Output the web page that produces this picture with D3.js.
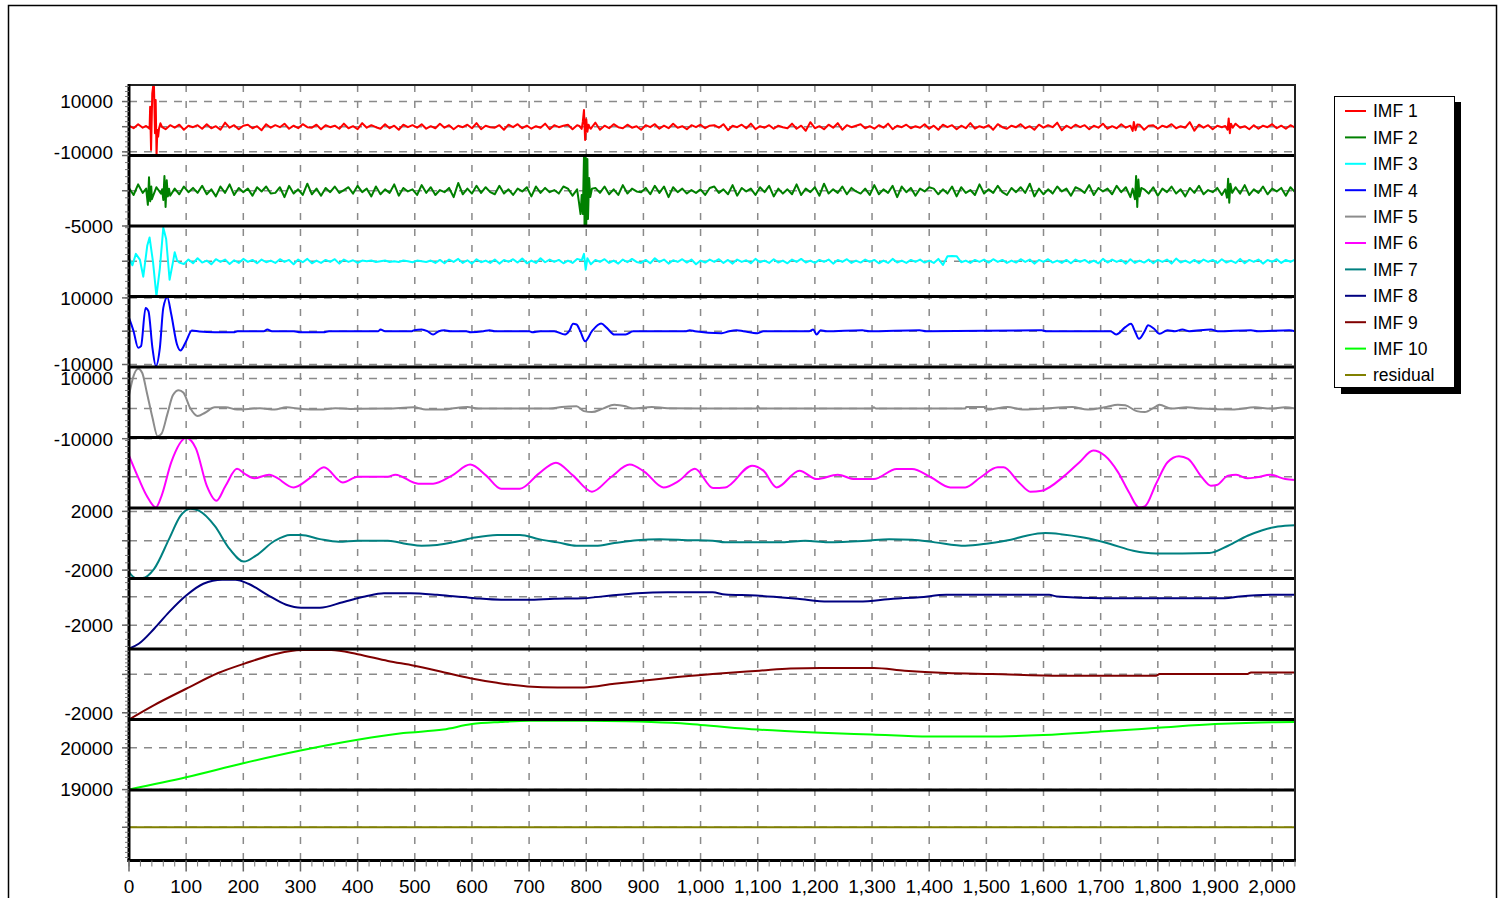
<!DOCTYPE html>
<html><head><meta charset="utf-8">
<script src="https://cdn.jsdelivr.net/npm/d3@7/dist/d3.min.js"></script>
<style>
body{margin:0;background:#fff;}
svg{display:block;font-family:"Liberation Sans",Arial,sans-serif;}
</style>
</head><body>
<svg id="chart" width="1499" height="898"></svg>
<script>
// ---------------- DATA ----------------
const seriesNames = ["IMF 1","IMF 2","IMF 3","IMF 4","IMF 5","IMF 6","IMF 7","IMF 8","IMF 9","IMF 10","residual"];
const seriesColors = ["#ff0000","#008000","#00ffff","#0000ff","#8c8c8c","#ff00ff","#008080","#000080","#800000","#00ff00","#808000"];
const xTickValues = [0,100,200,300,400,500,600,700,800,900,1000,1100,1200,1300,1400,1500,1600,1700,1800,1900,2000];
const xDomain = [0, 2040];

const yDomains = [[-11450,16580],[-5000,5000],[-10500,10500],[-10750,10420],[-9600,13800],[-5200,6500],[-2570,2230],[-3680,1290],[-2350,1320],[18990,20680],[-33,37]];
const yTicks   = [[-10000,0,10000],[-5000,0,5000],[0],[-10000,0,10000],[-10000,0,10000],[0],[-2000,0,2000],[-2000,0],[-2000,0],[19000,20000],[0]];
const yLabels  = [[-10000,10000],[-5000],[],[-10000,10000],[-10000,10000],[],[-2000,2000],[-2000],[-2000],[19000,20000],[]];

const noiseStep = 8;
// IMF 1 background (every 8 samples)
const imf1Noise = [
400,-600,1000,-400,600,-800,200,1200,-1000,600,-400,800,-1200,400,-200,600,
-800,1000,-600,200,-1200,1600,-400,600,-1000,400,800,-600,200,-1400,1000,-400,
600,-200,1200,-800,400,-600,1000,-200,-400,800,-1000,600,-200,400,-800,1200,
-600,200,-1000,1400,-400,600,-200,-800,1000,-600,400,-1200,800,-200,600,-400,
1000,-800,200,-600,1200,-400,600,-1000,400,-200,800,-600,1400,-1000,400,-200,
-400,600,-1200,800,-200,1000,-600,400,-800,200,-400,1200,-1000,600,-200,400,
800,-1000,600,-400,200,-800,1600,-1200,400,-600,1000,-200,-600,800,-400,200,
-1200,600,-200,1000,-800,400,-600,1200,-400,200,-1000,600,-200,800,-600,400,
600,-400,1000,-1400,400,-200,800,-600,1200,-1000,200,-400,600,-800,400,-200,
-600,1200,-800,400,-1600,1800,-600,200,-1000,800,-400,1400,-1200,600,-200,400,
1000,-600,200,-800,600,-400,1200,-1000,400,-200,800,-600,200,-400,1000,-800,
400,-1200,800,-200,600,-1000,400,-600,1400,-800,200,-400,600,-1200,1000,-200,
-800,400,-200,1000,-600,200,-1200,800,-400,600,-200,1600,-1400,400,-600,800,
-200,600,-1000,400,-400,1200,-800,200,-600,1000,-400,600,-200,800,-1200,400,
600,-800,400,-200,1000,-600,200,-400,1800,-1600,800,-400,600,-1000,400,-200,
800,-600,1200,-400,200,-1000,600,-800,400,-200,1000,-600,400,-800,600,-400];
const imf1Bursts = [
 [[30,300],[36,-800],[37,7950],[38.6,-9260],[40.7,13300],[42.5,16580],[43.7,15900],[45.5,-2600],[46.7,10600],[48.2,-11450],[49.6,-1300],[51,-4000],[52.6,-600],[55,1350],[58,-200]],
 [[788,300],[792,-900],[794,2000],[796,6600],[798,-5300],[800,3000],[802,-2000],[804,800],[806,-300]],
 [[1752,400],[1756,-1700],[1758,1900],[1761,-1400],[1764,900]],
 [[1918,300],[1922,-1200],[1924,3300],[1926,-2600],[1928,1200],[1931,-400]]];

const imf2Noise = [
400,-600,900,-300,700,-1200,500,-400,800,-700,300,-500,600,-200,400,-300,
700,-500,200,-800,600,-300,900,-600,400,-200,300,-700,500,-100,600,-400,
-300,500,-900,700,-400,200,-600,1000,-500,300,-700,400,-200,600,-300,100,
500,-400,700,-200,300,-800,600,-500,200,-300,900,-700,400,-100,200,-600,
800,-300,500,-600,100,-200,400,-900,1100,-500,300,-400,700,-300,500,-200,
-500,700,-400,200,-600,300,-100,500,-800,600,-300,400,-200,100,-400,600,
300,-700,500,-200,900,-1000,400,-300,600,-500,200,-600,800,-400,300,-100,
-200,400,-500,700,-300,600,-900,500,-200,300,-400,100,-300,200,-600,400,
600,-300,200,-500,800,-700,400,-100,300,-600,500,-200,700,-800,300,-400,
200,-500,900,-600,300,-200,500,-700,1000,-400,200,-300,600,-500,400,-100,
-400,300,-600,800,-500,200,-300,700,-900,600,-200,400,-700,300,-100,500,
300,-500,200,-400,600,-800,500,-300,100,-600,900,-400,200,-300,700,-200,
-600,400,-200,500,-300,1000,-800,300,-500,200,-400,600,-100,300,-700,500,
200,-300,800,-600,400,-100,300,-500,700,-200,500,-900,600,-300,200,-400,
500,-700,300,-200,600,-400,200,-800,400,-300,700,-500,100,-200,400,-600,
300,-200,500,-400,800,-600,200,-300,600,-500,300,-100,400,-700,500,-200];
const imf2Bursts = [
 [[30,300],[33,-2000],[35,1900],[37,-1500],[39,600]],
 [[58,200],[60,-1300],[62,2100],[64,-2300],[66,1500],[68,-800],[70,300]],
 [[784,200],[787,-1500],[790,-3300],[792,-600],[794,-3300],[796,4800],[797,-5000],[799,4900],[800,-4800],[802,4500],[803,-4000],[805,1800],[807,-900],[810,300]],
 [[1756,300],[1760,-1200],[1762,2100],[1764,-2300],[1766,1600],[1768,-800],[1771,400]],
 [[1918,200],[1921,-1000],[1923,1700],[1925,-1700],[1927,1000],[1930,-300]]];

const imf3Noise = [
500,-300,600,-400,300,-700,400,-200,600,-400,300,-200,-800,500,-600,900,
-400,200,-900,600,-200,500,-800,300,-500,700,-200,400,-600,500,-300,200,
-500,600,-200,400,-900,500,-300,700,-600,200,-500,400,-200,600,-700,500,
-200,300,-500,200,0,200,-200,0,200,-200,0,-200,200,0,-300,200,
0,-200,200,-500,400,-600,500,-200,700,-500,300,-700,600,-300,200,-500,
500,-700,400,-200,600,-400,800,-600,200,-500,900,-300,500,-200,400,-600,
200,-500,700,-300,500,-900,400,-200,600,-500,200,-700,500,-300,700,-200,
-500,400,-600,900,-200,500,-700,300,-200,600,-400,500,-900,200,-400,500,
-200,600,-500,400,-700,500,-200,300,-600,700,-300,200,-500,600,-400,200,
-600,500,-200,700,-400,200,-500,400,-200,500,-700,400,-200,600,-500,200,
-400,500,-200,400,-600,200,-500,700,-400,200,-500,400,-200,500,-400,200,
-500,700,-1100,1500,1600,1500,-300,200,-500,400,-200,500,-400,600,-200,400,
-500,200,-400,600,-200,500,-700,400,-200,600,-400,200,-500,400,-600,500,
-200,400,-500,200,-600,700,-400,500,-200,400,-700,600,-500,200,-400,500,
-600,400,-200,500,-700,800,-400,200,-500,400,-600,500,-200,400,-500,600,
-400,200,-500,700,-600,400,-200,500,-700,400,-200,600,-500,400,-200,500];
const imf3Bursts = [
 [[0,800],[6,-1200],[12,2200],[19,500],[25,-4600],[32,4700],[36,7100],[42,-200],[48,-10400],[54,-2100],[60,10000],[65,6600],[71,-5500],[77,-200],[80,2700],[84,300],[88,-400]],
 [[792,300],[796,2200],[799,-2500],[802,900],[806,-300]]];

const imf4 = [[0,4000],[8,0],[16,-5000],[21,-4500],[29,7000],[34,6000],[41,-5000],[47,-10500],[54,-5000],[60,7000],[67,10200],[74,5000],[84,-4000],[90,-5800],[100,-3000],[110,200],[123,-100],[150,-300],[183,-300],[190,0],[236,0],[242,500],[250,0],[288,0],[300,-300],[340,-300],[350,0],[436,0],[440,500],[448,0],[495,0],[499,300],[512,500],[522,0],[532,-1000],[542,0],[552,300],[562,0],[590,0],[598,-300],[620,0],[631,300],[640,0],[700,0],[705,-300],[720,0],[744,0],[763,-1000],[770,0],[777,2200],[783,2000],[790,-200],[798,-3000],[810,0],[826,2300],[836,1000],[849,-1000],[869,-1000],[882,0],[975,0],[981,300],[990,0],[1037,-600],[1050,0],[1063,300],[1075,0],[1100,-600],[1110,0],[1190,0],[1197,500],[1203,-1000],[1210,300],[1220,0],[1283,300],[1295,0],[1383,300],[1395,0],[1597,300],[1605,0],[1717,0],[1727,-1000],[1743,1200],[1753,2200],[1760,0],[1767,-2300],[1777,0],[1783,1800],[1793,800],[1803,-800],[1817,300],[1830,0],[1843,500],[1855,0],[1893,500],[1905,0],[1963,300],[1975,0],[2030,300],[2040,0]];

const imf5 = [[0,4470],[8,10860],[16,13200],[23,11900],[31,5530],[41,-2980],[50,-9160],[57,-8300],[67,-1920],[77,4470],[87,6070],[95,5330],[107,220],[120,-2450],[133,-1380],[150,430],[169,430],[189,-320],[229,110],[255,-320],[275,430],[301,-100],[334,-320],[361,110],[387,-100],[453,0],[499,430],[519,-320],[552,-320],[565,0],[592,540],[611,0],[737,0],[757,540],[783,750],[796,-850],[810,-1170],[829,0],[849,1280],[869,750],[882,0],[915,540],[942,110],[1024,0],[1098,0],[1100,750],[1104,0],[1300,0],[1303,400],[1307,0],[1463,0],[1465,540],[1497,540],[1503,-320],[1537,540],[1563,-320],[1597,0],[1650,540],[1677,-320],[1710,540],[1730,1280],[1743,1100],[1763,-850],[1777,-1170],[1797,750],[1803,1280],[1823,0],[1850,430],[1877,0],[1930,-320],[1970,430],[1997,0],[2023,430],[2040,0]];

const imf6 = [[0,3500],[17,-330],[31,-3170],[47,-5100],[57,-3170],[74,2400],[100,6400],[117,4700],[136,-1500],[153,-4000],[169,-1500],[189,1300],[202,500],[219,-280],[245,330],[255,0],[288,-1780],[315,-330],[341,1550],[374,-950],[400,0],[453,0],[466,330],[506,-1170],[532,-1170],[565,170],[597,2000],[625,170],[651,-2000],[684,-2000],[717,500],[747,2330],[777,170],[810,-2500],[843,-100],[876,2000],[902,800],[935,-1780],[962,-700],[990,1300],[1022,-1900],[1043,-1780],[1090,1830],[1110,1000],[1133,-1780],[1173,1000],[1203,-400],[1240,300],[1270,-400],[1303,-400],[1343,1280],[1370,1280],[1403,-100],[1437,-1780],[1463,-1780],[1490,-100],[1520,1550],[1530,1550],[1557,-950],[1577,-2500],[1597,-2330],[1637,170],[1663,2400],[1687,4330],[1707,3500],[1730,800],[1750,-2670],[1767,-5100],[1777,-4950],[1797,-1170],[1817,2400],[1837,3400],[1853,2950],[1877,-100],[1893,-1500],[1903,-1400],[1923,170],[1937,300],[1957,-280],[1973,-100],[1997,300],[2023,-400],[2040,-550]];

const imf7 = [[0,-2140],[11,-2530],[24,-2530],[44,-1910],[70,110],[90,1690],[107,2180],[123,2030],[150,1010],[176,-560],[201,-1420],[222,-1010],[255,0],[282,400],[301,400],[334,110],[367,-70],[400,0],[453,0],[486,-220],[512,-340],[539,-290],[572,-70],[605,220],[644,400],[684,400],[717,110],[750,-110],[783,-340],[816,-340],[849,-160],[889,40],[928,110],[981,40],[1021,0],[1043,-110],[1143,-110],[1183,0],[1223,-110],[1290,0],[1330,110],[1370,70],[1410,-110],[1463,-340],[1503,-180],[1543,70],[1570,340],[1603,520],[1630,450],[1670,220],[1717,-220],[1757,-680],[1797,-860],[1843,-860],[1890,-840],[1923,-340],[1957,340],[1983,720],[2010,970],[2040,1060]];

const imf8 = [[0,-3660],[17,-3310],[44,-2250],[70,-1080],[100,90],[130,920],[163,1200],[186,1200],[209,920],[242,140],[275,-560],[301,-770],[334,-770],[374,-380],[413,20],[446,250],[493,250],[539,140],[572,20],[605,-100],[651,-210],[697,-210],[744,-140],[796,-100],[843,90],[889,250],[942,320],[1021,320],[1043,160],[1097,90],[1137,-30],[1170,-140],[1223,-330],[1277,-330],[1337,-140],[1383,-30],[1430,140],[1610,140],[1623,20],[1703,-100],[1917,-100],[1943,20],[1997,140],[2040,140]];

const imf9 = [[0,-2350],[44,-1600],[100,-750],[156,70],[202,560],[255,1050],[301,1270],[354,1270],[400,1050],[453,700],[499,450],[552,100],[597,-200],[644,-440],[697,-630],[750,-680],[796,-680],[849,-490],[902,-320],[955,-150],[1021,20],[1057,100],[1103,190],[1157,310],[1210,330],[1303,330],[1357,190],[1430,70],[1510,20],[1630,-70],[1797,-70],[1803,20],[1957,20],[1963,100],[2040,100]];

const imf10 = [[0,19000],[100,19294],[200,19631],[300,19935],[400,20193],[480,20354],[550,20440],[600,20570],[650,20620],[700,20650],[800,20650],[870,20640],[950,20600],[1000,20550],[1100,20440],[1200,20370],[1300,20320],[1400,20270],[1500,20270],[1600,20310],[1700,20390],[1800,20480],[1900,20570],[1980,20610],[2040,20620]];

const residual = [[0,0],[2040,0]];

// ---------------- DRAWING ----------------
function withBursts(base, step, bursts) {
  const pts = [];
  base.forEach((v, i) => {
    const xv = i * step;
    if (!bursts.some(b => xv >= b[0][0] && xv <= b[b.length - 1][0])) pts.push([xv, v]);
  });
  bursts.forEach(b => b.forEach(p => pts.push(p)));
  pts.sort((a, b) => a[0] - b[0]);
  return pts;
}
const seriesData = [
  withBursts(imf1Noise, noiseStep, imf1Bursts),
  withBursts(imf2Noise, noiseStep, imf2Bursts),
  withBursts(imf3Noise, noiseStep, imf3Bursts),
  imf4, imf5, imf6, imf7, imf8, imf9, imf10, residual];
const smooth = [false,false,false,true,true,true,true,true,true,true,true];

const svg = d3.select("#chart");
const L = 129, R = 1295, T = 85, B = 860.5;
const nP = seriesNames.length;
const pH = (B - T) / nP;
const x = d3.scaleLinear().domain(xDomain).range([L, R]);
const numFmt = d => String(d);   // plain hyphen-minus as in the original

// outer frame
svg.append("rect").attr("x", 8.5).attr("y", 5.5).attr("width", 1488).attr("height", 900)
  .attr("fill", "#fff").attr("stroke", "#000").attr("stroke-width", 1.5);

const grid = svg.append("g");
grid.selectAll("line.v").data(xTickValues.filter(d => d > 0)).join("line")
  .attr("x1", d => x(d)).attr("x2", d => x(d)).attr("y1", T).attr("y2", B)
  .attr("stroke", "#8a8a8a").attr("stroke-width", 1.5).attr("stroke-dasharray", "7,9");

const yScales = [];
for (let i = 0; i < nP; i++) {
  const top = T + i * pH, bot = top + pH;
  const y = d3.scaleLinear().domain(yDomains[i]).range([bot, top]);
  yScales.push(y);
  grid.selectAll(null).data(yTicks[i]).join("line")
    .attr("x1", L).attr("x2", R).attr("y1", d => y(d)).attr("y2", d => y(d))
    .attr("stroke", "#8a8a8a").attr("stroke-width", 1.5).attr("stroke-dasharray", "8,7");
}

// series
const lines = svg.append("g");
seriesData.forEach((data, i) => {
  const y = yScales[i];
  const gen = d3.line().x(d => x(d[0])).y(d => y(d[1]))
    .curve(smooth[i] ? d3.curveMonotoneX : d3.curveLinear);
  lines.append("path").datum(data).attr("d", gen)
    .attr("fill", "none").attr("stroke", seriesColors[i])
    .attr("stroke-width", 2).attr("stroke-linejoin", "round");
});

// panel separators
const frame = svg.append("g");
for (let i = 1; i < nP; i++) {
  const yy = T + i * pH;
  frame.append("line").attr("x1", L).attr("x2", R).attr("y1", yy).attr("y2", yy)
    .attr("stroke", "#000").attr("stroke-width", 3);
}
frame.append("line").attr("x1", L).attr("x2", R + 1).attr("y1", T).attr("y2", T).attr("stroke", "#222").attr("stroke-width", 2);
frame.append("line").attr("x1", R).attr("x2", R).attr("y1", T).attr("y2", B).attr("stroke", "#222").attr("stroke-width", 2);
frame.append("line").attr("x1", L).attr("x2", L).attr("y1", T - 1).attr("y2", B + 1.5).attr("stroke", "#000").attr("stroke-width", 3);
frame.append("line").attr("x1", L - 1.5).attr("x2", R + 1).attr("y1", B).attr("y2", B).attr("stroke", "#000").attr("stroke-width", 3);

// y ticks and labels
const axes = svg.append("g");
yScales.forEach((y, i) => {
  const minor = y.ticks(12);
  axes.selectAll(null).data(minor).join("line")
    .attr("x1", L - 4).attr("x2", L).attr("y1", d => y(d)).attr("y2", d => y(d))
    .attr("stroke", "#777").attr("stroke-width", 1);
  axes.selectAll(null).data(yTicks[i]).join("line")
    .attr("x1", L - 7).attr("x2", L).attr("y1", d => y(d)).attr("y2", d => y(d))
    .attr("stroke", "#666").attr("stroke-width", 1.5);
  axes.selectAll(null).data(yLabels[i]).join("text")
    .attr("x", 113).attr("y", d => y(d)).attr("dy", "0.36em")
    .attr("text-anchor", "end").attr("font-size", 19).attr("fill", "#000")
    .text(numFmt);
});

// x axis
const xMinor = x.ticks(100).filter(d => d % 20 === 0);
axes.selectAll(null).data(xMinor).join("line")
  .attr("x1", d => x(d)).attr("x2", d => x(d)).attr("y1", B).attr("y2", B + 6)
  .attr("stroke", "#777").attr("stroke-width", 1);
axes.selectAll(null).data(xTickValues).join("line")
  .attr("x1", d => x(d)).attr("x2", d => x(d)).attr("y1", B).attr("y2", B + 11)
  .attr("stroke", "#666").attr("stroke-width", 1.5);
axes.selectAll(null).data(xTickValues).join("text")
  .attr("x", d => x(d)).attr("y", 893).attr("text-anchor", "middle")
  .attr("font-size", 19).attr("fill", "#000").text(d => d3.format(",")(d));

// legend
const lg = svg.append("g");
lg.append("rect").attr("x", 1341).attr("y", 102).attr("width", 120).attr("height", 292).attr("fill", "#000");
lg.append("rect").attr("x", 1334.5).attr("y", 96.5).attr("width", 120).attr("height", 291)
  .attr("fill", "#fff").attr("stroke", "#000").attr("stroke-width", 1);
seriesNames.forEach((n, i) => {
  const yy = 111 + i * 26.4;
  lg.append("line").attr("x1", 1345).attr("x2", 1366).attr("y1", yy).attr("y2", yy)
    .attr("stroke", seriesColors[i]).attr("stroke-width", 2);
  lg.append("text").attr("x", 1373).attr("y", yy).attr("dy", "0.36em")
    .attr("font-size", 17.5).attr("fill", "#000").text(n);
});
</script>
</body></html>
